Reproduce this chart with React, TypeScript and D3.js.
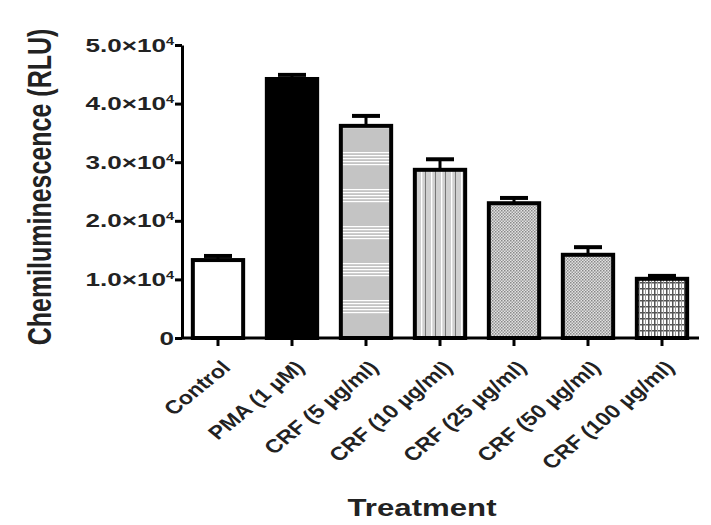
import React, { useEffect, useRef } from "react";
import * as d3 from "d3";

// values (RLU)
const categories = ["Control", "PMA (1 µM)", "CRF (5 µg/ml)", "CRF (10 µg/ml)", "CRF (25 µg/ml)", "CRF (50 µg/ml)", "CRF (100 µg/ml)"];
const means = [13300, 44200, 36200, 28700, 23000, 14200, 10100];
const errors = [700, 700, 1700, 1800, 900, 1300, 500];
const yTicks = [0, 10000, 20000, 30000, 40000, 50000];
const barFills = ["#ffffff", "#000000", "url(#hlines)", "url(#vlines)", "url(#dots)", "url(#dots)", "url(#plaid)"];

const W = 711, H = 525;

export default function App() {
    const ref = useRef<SVGSVGElement>(null);

    useEffect(() => {
        const svg = d3.select(ref.current);
        const g = svg.select(".plot");

        const x = d3.scaleBand().domain(categories).range([181, 699]).paddingInner(0.32).paddingOuter(0.16);
        const y = d3.scaleLinear().domain([0, 50000]).range([338, 45]);
        const cx = d => x(d) + x.bandwidth() / 2;

        // bars
        g.selectAll(".bar").data(categories).join("rect").attr("class", "bar")
            .attr("x", d => x(d))
            .attr("y", (d, i) => y(means[i]))
            .attr("width", x.bandwidth())
            .attr("height", (d, i) => y(0) - y(means[i]))
            .attr("fill", (d, i) => barFills[i])
            .attr("stroke", "#000").attr("stroke-width", 4);

        // error bars (upper only)
        g.selectAll(".err").data(categories).join("line").attr("class", "err")
            .attr("x1", cx).attr("x2", cx)
            .attr("y1", (d, i) => y(means[i])).attr("y2", (d, i) => y(means[i] + errors[i]))
            .attr("stroke", "#000").attr("stroke-width", 3);
        g.selectAll(".cap").data(categories).join("line").attr("class", "cap")
            .attr("x1", d => cx(d) - 14).attr("x2", d => cx(d) + 14)
            .attr("y1", (d, i) => y(means[i] + errors[i])).attr("y2", (d, i) => y(means[i] + errors[i]))
            .attr("stroke", "#000").attr("stroke-width", 4);

        // Y axis
        g.selectAll(".y_axis_g").data([0]).join("g").attr("class", "y_axis_g")
            .attr("transform", "translate(182, 0)")
            .call(d3.axisLeft(y).tickValues(yTicks).tickSize(7).tickSizeOuter(0).tickFormat(() => ""))
            .call(a => a.selectAll("path, line").attr("stroke", "#000").attr("stroke-width", 3));

        g.selectAll(".ylab").data(yTicks).join("text").attr("class", "ylab")
            .attr("transform", d => `translate(174, ${y(d) + 6.5}) scale(1.45, 1)`)
            .attr("text-anchor", "end")
            .style("font-size", "18px").style("font-weight", "bold").attr("fill", "#222")
            .each(function (d) {
                const t = d3.select(this);
                t.selectAll("*").remove();
                if (d === 0) { t.text("0"); return; }
                t.text(null);
                t.append("tspan").text(`${(d / 10000).toFixed(1)}×10`);
                t.append("tspan").attr("dy", -7).style("font-size", "10px").text("4");
            });

        // X axis
        g.selectAll(".x_axis_g").data([0]).join("g").attr("class", "x_axis_g")
            .attr("transform", "translate(0, 338)")
            .call(d3.axisBottom(x).tickSize(8).tickSizeOuter(0).tickFormat(() => ""))
            .call(a => a.select(".domain").attr("d", "M181,0H699"))
            .call(a => a.selectAll("path, line").attr("stroke", "#000").attr("stroke-width", 3));

        g.selectAll(".xlab").data(categories).join("text").attr("class", "xlab")
            .attr("transform", d => `translate(${cx(d) + 8}, 364) scale(1.22, 1) rotate(-45)`)
            .attr("text-anchor", "end").attr("dy", "0.35em")
            .style("font-size", "19px").style("font-weight", "bold").attr("fill", "#222")
            .text(d => d);

        // axis titles
        g.selectAll(".x_title").data([0]).join("text").attr("class", "x_title")
            .attr("transform", `translate(422, 516) scale(1.3, 1)`)
            .attr("text-anchor", "middle")
            .style("font-size", "24px").style("font-weight", "bold").attr("fill", "#222")
            .text("Treatment");

        g.selectAll(".y_title").data([0]).join("text").attr("class", "y_title")
            .attr("transform", `translate(51, 187) scale(1.3, 1) rotate(-90)`)
            .attr("text-anchor", "middle")
            .style("font-size", "25px").style("font-weight", "bold").attr("fill", "#222")
            .text("Chemiluminescence (RLU)");
    }, []);

    return (
        <svg ref={ref} width={W} height={H}
            style={{ position: "absolute", left: 0, top: 0, background: "#fff", fontFamily: "'Liberation Sans', Arial, sans-serif" }}>
            <defs>
                <pattern id="hlines" width="10" height="37" patternUnits="userSpaceOnUse">
                    <rect width="10" height="37" fill="#c4c4c4" />
                    <rect y="4" width="10" height="1.2" fill="#fff" />
                    <rect y="7" width="10" height="1.2" fill="#fff" />
                    <rect y="10" width="10" height="1.2" fill="#fff" />
                    <rect y="13" width="10" height="1.2" fill="#fff" />
                    <rect y="16" width="10" height="1.2" fill="#fff" />
                </pattern>
                <pattern id="vlines" width="10" height="10" patternUnits="userSpaceOnUse">
                    <rect width="10" height="10" fill="#d0d0d0" />
                    <rect x="1" width="1.3" height="10" fill="#fff" />
                    <rect x="5" width="1" height="10" fill="#777" />
                </pattern>
                <pattern id="dots" width="3" height="3" patternUnits="userSpaceOnUse">
                    <rect width="3" height="3" fill="#e2e2e2" />
                    <rect width="1.5" height="1.5" fill="#888" />
                    <rect x="1.5" y="1.5" width="1.5" height="1.5" fill="#999" />
                </pattern>
                <pattern id="plaid" width="6" height="6" patternUnits="userSpaceOnUse">
                    <rect width="6" height="6" fill="#fff" />
                    <rect x="0" width="1.5" height="6" fill="#555" />
                    <rect y="0" width="6" height="1.5" fill="#555" />
                    <rect x="3" width="1" height="6" fill="#999" />
                </pattern>
            </defs>
            <g className="plot"></g>
        </svg>
    );
}
